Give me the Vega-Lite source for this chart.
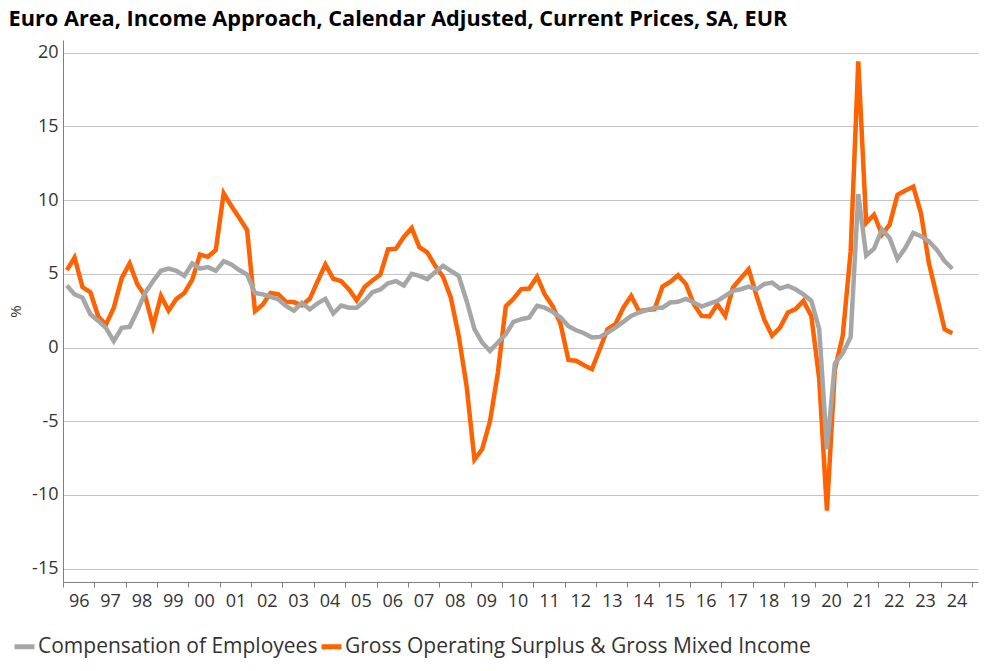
{
  "$schema": "https://vega.github.io/schema/vega-lite/v6.json",
  "width": 915,
  "height": 542,
  "autosize": {"type": "none"},
  "padding": {"left": 63, "top": 40, "right": 12, "bottom": 89},
  "background": "white",
  "config": {"font": "Open Sans", "view": {"stroke": null}},
  "title": {
    "text": "Euro Area, Income Approach, Calendar Adjusted, Current Prices, SA, EUR",
    "anchor": "start",
    "dx": 0,
    "offset": 9,
    "fontSize": 21.7,
    "fontWeight": "bold",
    "color": "#000000"
  },
  "data": {
    "values": [
      {"date": "1996-02-15", "gos": 5.25, "comp": 4.2},
      {"date": "1996-05-15", "gos": 6.1, "comp": 3.6},
      {"date": "1996-08-15", "gos": 4.1, "comp": 3.37},
      {"date": "1996-11-15", "gos": 3.75, "comp": 2.25},
      {"date": "1997-02-15", "gos": 2.1, "comp": 1.8},
      {"date": "1997-05-15", "gos": 1.55, "comp": 1.33},
      {"date": "1997-08-15", "gos": 2.7, "comp": 0.43},
      {"date": "1997-11-15", "gos": 4.7, "comp": 1.33},
      {"date": "1998-02-15", "gos": 5.7, "comp": 1.4},
      {"date": "1998-05-15", "gos": 4.3, "comp": 2.47},
      {"date": "1998-08-15", "gos": 3.5, "comp": 3.7},
      {"date": "1998-11-15", "gos": 1.45, "comp": 4.5},
      {"date": "1999-02-15", "gos": 3.5, "comp": 5.2},
      {"date": "1999-05-15", "gos": 2.5, "comp": 5.35},
      {"date": "1999-08-15", "gos": 3.3, "comp": 5.2},
      {"date": "1999-11-15", "gos": 3.7, "comp": 4.85},
      {"date": "2000-02-15", "gos": 4.6, "comp": 5.7},
      {"date": "2000-05-15", "gos": 6.3, "comp": 5.35},
      {"date": "2000-08-15", "gos": 6.15, "comp": 5.45},
      {"date": "2000-11-15", "gos": 6.6, "comp": 5.2},
      {"date": "2001-02-15", "gos": 10.45, "comp": 5.85},
      {"date": "2001-05-15", "gos": 9.6, "comp": 5.63},
      {"date": "2001-08-15", "gos": 8.8, "comp": 5.25},
      {"date": "2001-11-15", "gos": 7.96, "comp": 4.95},
      {"date": "2002-02-15", "gos": 2.47, "comp": 3.7},
      {"date": "2002-05-15", "gos": 2.9, "comp": 3.6},
      {"date": "2002-08-15", "gos": 3.7, "comp": 3.44},
      {"date": "2002-11-15", "gos": 3.6, "comp": 3.26},
      {"date": "2003-02-15", "gos": 3.08, "comp": 2.8},
      {"date": "2003-05-15", "gos": 3.08, "comp": 2.5},
      {"date": "2003-08-15", "gos": 2.85, "comp": 3.03},
      {"date": "2003-11-15", "gos": 3.3, "comp": 2.58},
      {"date": "2004-02-15", "gos": 4.5, "comp": 3.0},
      {"date": "2004-05-15", "gos": 5.63, "comp": 3.3},
      {"date": "2004-08-15", "gos": 4.66, "comp": 2.3},
      {"date": "2004-11-15", "gos": 4.5, "comp": 2.85},
      {"date": "2005-02-15", "gos": 3.94, "comp": 2.7},
      {"date": "2005-05-15", "gos": 3.2, "comp": 2.7},
      {"date": "2005-08-15", "gos": 4.1, "comp": 3.15},
      {"date": "2005-11-15", "gos": 4.55, "comp": 3.75},
      {"date": "2006-02-15", "gos": 4.95, "comp": 3.94},
      {"date": "2006-05-15", "gos": 6.65, "comp": 4.35},
      {"date": "2006-08-15", "gos": 6.7, "comp": 4.5},
      {"date": "2006-11-15", "gos": 7.5, "comp": 4.2},
      {"date": "2007-02-15", "gos": 8.1, "comp": 5.0},
      {"date": "2007-05-15", "gos": 6.8, "comp": 4.86},
      {"date": "2007-08-15", "gos": 6.45, "comp": 4.64},
      {"date": "2007-11-15", "gos": 5.54, "comp": 5.1},
      {"date": "2008-02-15", "gos": 4.8, "comp": 5.54},
      {"date": "2008-05-15", "gos": 3.4, "comp": 5.2},
      {"date": "2008-08-15", "gos": 0.8, "comp": 4.86},
      {"date": "2008-11-15", "gos": -2.6, "comp": 3.17},
      {"date": "2009-02-15", "gos": -7.6, "comp": 1.24},
      {"date": "2009-05-15", "gos": -6.9, "comp": 0.34},
      {"date": "2009-08-15", "gos": -5.0, "comp": -0.23},
      {"date": "2009-11-15", "gos": -1.7, "comp": 0.34},
      {"date": "2010-02-15", "gos": 2.8, "comp": 0.9},
      {"date": "2010-05-15", "gos": 3.3, "comp": 1.74},
      {"date": "2010-08-15", "gos": 3.96, "comp": 1.92},
      {"date": "2010-11-15", "gos": 4.0, "comp": 2.04},
      {"date": "2011-02-15", "gos": 4.8, "comp": 2.83},
      {"date": "2011-05-15", "gos": 3.6, "comp": 2.7},
      {"date": "2011-08-15", "gos": 2.8, "comp": 2.42},
      {"date": "2011-11-15", "gos": 1.6, "comp": 2.04},
      {"date": "2012-02-15", "gos": -0.85, "comp": 1.45},
      {"date": "2012-05-15", "gos": -0.9, "comp": 1.17},
      {"date": "2012-08-15", "gos": -1.2, "comp": 0.97},
      {"date": "2012-11-15", "gos": -1.47, "comp": 0.68},
      {"date": "2013-02-15", "gos": -0.1, "comp": 0.72},
      {"date": "2013-05-15", "gos": 1.24, "comp": 1.0},
      {"date": "2013-08-15", "gos": 1.58, "comp": 1.35},
      {"date": "2013-11-15", "gos": 2.7, "comp": 1.74},
      {"date": "2014-02-15", "gos": 3.5, "comp": 2.14},
      {"date": "2014-05-15", "gos": 2.48, "comp": 2.37},
      {"date": "2014-08-15", "gos": 2.55, "comp": 2.53},
      {"date": "2014-11-15", "gos": 2.6, "comp": 2.7},
      {"date": "2015-02-15", "gos": 4.13, "comp": 2.7},
      {"date": "2015-05-15", "gos": 4.45, "comp": 3.05},
      {"date": "2015-08-15", "gos": 4.9, "comp": 3.1},
      {"date": "2015-11-15", "gos": 4.3, "comp": 3.3},
      {"date": "2016-02-15", "gos": 2.93, "comp": 3.05},
      {"date": "2016-05-15", "gos": 2.14, "comp": 2.78},
      {"date": "2016-08-15", "gos": 2.1, "comp": 2.98},
      {"date": "2016-11-15", "gos": 2.93, "comp": 3.16},
      {"date": "2017-02-15", "gos": 2.14, "comp": 3.5},
      {"date": "2017-05-15", "gos": 4.06, "comp": 3.84},
      {"date": "2017-08-15", "gos": 4.7, "comp": 3.95},
      {"date": "2017-11-15", "gos": 5.3, "comp": 4.13},
      {"date": "2018-02-15", "gos": 3.5, "comp": 3.95},
      {"date": "2018-05-15", "gos": 1.9, "comp": 4.3},
      {"date": "2018-08-15", "gos": 0.8, "comp": 4.4},
      {"date": "2018-11-15", "gos": 1.35, "comp": 4.0},
      {"date": "2019-02-15", "gos": 2.37, "comp": 4.18},
      {"date": "2019-05-15", "gos": 2.6, "comp": 3.95},
      {"date": "2019-08-15", "gos": 3.16, "comp": 3.6},
      {"date": "2019-11-15", "gos": 2.14, "comp": 3.16},
      {"date": "2020-02-15", "gos": -2.14, "comp": 1.24},
      {"date": "2020-05-15", "gos": -11.06, "comp": -6.9},
      {"date": "2020-08-15", "gos": -1.5, "comp": -1.1},
      {"date": "2020-11-15", "gos": 0.8, "comp": -0.4},
      {"date": "2021-02-15", "gos": 6.5, "comp": 0.7},
      {"date": "2021-05-15", "gos": 19.4, "comp": 10.4},
      {"date": "2021-08-15", "gos": 8.45, "comp": 6.24},
      {"date": "2021-11-15", "gos": 9.0, "comp": 6.7},
      {"date": "2022-02-15", "gos": 7.66, "comp": 8.0},
      {"date": "2022-05-15", "gos": 8.33, "comp": 7.43},
      {"date": "2022-08-15", "gos": 10.36, "comp": 6.0},
      {"date": "2022-11-15", "gos": 10.65, "comp": 6.76},
      {"date": "2023-02-15", "gos": 10.9, "comp": 7.77},
      {"date": "2023-05-15", "gos": 9.12, "comp": 7.55},
      {"date": "2023-08-15", "gos": 5.74, "comp": 7.2},
      {"date": "2023-11-15", "gos": 3.5, "comp": 6.64},
      {"date": "2024-02-15", "gos": 1.24, "comp": 5.86},
      {"date": "2024-05-15", "gos": 0.97, "comp": 5.34}
    ]
  },
  "transform": [{"fold": ["comp", "gos"], "as": ["series", "value"]}],
  "encoding": {
    "x": {
      "field": "date",
      "type": "temporal",
      "scale": {
        "type": "utc",
        "domain": [
          {"year": 1996, "month": 1, "date": 1, "utc": true},
          {"year": 2025, "month": 3, "date": 10, "utc": true}
        ]
      },
      "axis": {
        "title": null,
        "grid": false,
        "tickCount": {"interval": "year", "step": 1},
        "labelExpr": "utcyear(datum.value) > 2024 ? '' : utcFormat(datum.value, '%y')",
        "labelOffset": 15.7,
        "labelAlign": "center",
        "labelFlush": false,
        "labelOverlap": false,
        "labelPadding": 5,
        "labelFontSize": 18,
        "labelColor": "#333333",
        "domainColor": "#808080",
        "tickColor": "#808080",
        "tickSize": 5
      }
    },
    "y": {
      "field": "value",
      "type": "quantitative",
      "scale": {"domain": [-15.9, 20.85], "nice": false, "zero": false},
      "axis": {
        "title": "%",
        "titleFontSize": 15,
        "titleFontWeight": "normal",
        "titleColor": "#333333",
        "titlePadding": 8,
        "values": [-15, -10, -5, 0, 5, 10, 15, 20],
        "labelExpr": "datum.value < 0 ? '-' + abs(datum.value) : '' + datum.value",
        "ticks": false,
        "labelPadding": 5,
        "labelFontSize": 18,
        "labelColor": "#333333",
        "domainColor": "#808080",
        "gridColor": "#c4c4c4"
      }
    },
    "color": {
      "field": "series",
      "type": "nominal",
      "scale": {"domain": ["comp", "gos"], "range": ["#A6A6A6", "#FF6200"]},
      "legend": {
        "title": null,
        "orient": "none",
        "legendX": -51,
        "legendY": 594,
        "direction": "horizontal",
        "labelExpr": "datum.value == 'comp' ? 'Compensation of Employees' : 'Gross Operating Surplus & Gross Mixed Income'",
        "labelFontSize": 21,
        "labelColor": "#333333",
        "labelOffset": 1,
        "columnPadding": -7,
        "symbolType": "stroke",
        "symbolStrokeWidth": 5,
        "symbolSize": 400,
        "labelLimit": 600
      }
    }
  },
  "layer": [
    {
      "transform": [{"filter": "datum.series == 'gos'"}],
      "mark": {"type": "line", "strokeWidth": 4.5}
    },
    {
      "transform": [{"filter": "datum.series == 'comp'"}],
      "mark": {"type": "line", "strokeWidth": 4.5}
    }
  ]
}
